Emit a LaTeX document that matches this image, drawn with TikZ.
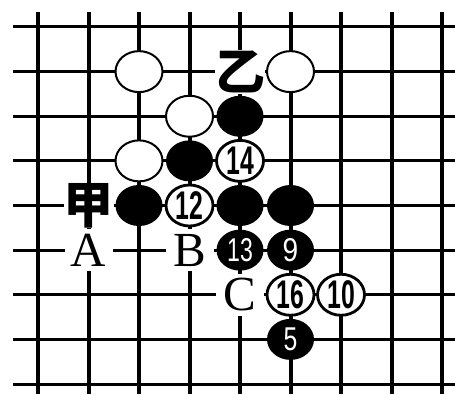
\documentclass[tikz,border=0pt]{standalone}
\usepackage{fontspec}
\setmainfont{Liberation Serif}
\newfontfamily\cjkfont{Noto Sans CJK SC}
\newfontfamily\numfont{Liberation Sans}
\usetikzlibrary{shapes.geometric}
\begin{document}
\begin{tikzpicture}[x=50.5pt,y=-44.625pt,
  stone/.style={ellipse, minimum width=47pt, minimum height=41pt, inner sep=0pt},
  wstone/.style={stone, draw=black, line width=2pt, fill=white},
  wnum/.style={stone, draw=black, line width=2.8pt, fill=white, font=\numfont\bfseries\fontsize{40}{40}\selectfont},
  bstone/.style={stone, fill=black},
  bnum/.style={stone, fill=black, text=white, font=\numfont\fontsize{33}{33}\selectfont},
  lbl/.style={rectangle, fill=white, minimum width=48pt, minimum height=42pt, inner sep=0pt, font=\fontsize{49}{49}\selectfont},
  cjk/.style={lbl, minimum width=45pt, minimum height=44pt, font=\cjkfont\bfseries\fontsize{50}{50}\selectfont},
  vline/.style={line width=4pt},
  hline/.style={line width=3pt}]
\useasboundingbox (-0.7525,-0.605) rectangle (8.257,8.224);
% grid
\foreach \i in {0,...,8} \draw[vline] (\i,-0.336) -- (\i,8.224);
\foreach \j in {0,...,8} \draw[hline] (-0.495,\j) -- (8.257,\j);
% labels
\node[cjk] (yi) at (4,1) {乙};
\node[cjk] (jia) at (1,4) {甲};
\node[lbl] (la) at (1,5) {A};
\node[lbl] (lb) at (3,5) {B};
\node[lbl] (lc) at (4,6) {C};
% stones
\node[wstone] (w21) at (2,1) {};
\node[wstone] (w51) at (5,1) {};
\node[wstone] (w32) at (3,2) {};
\node[bstone] (b42) at (4,2) {};
\node[wstone] (w23) at (2,3) {};
\node[bstone] (b33) at (3,3) {};
\node[wnum] (w14) at (4,3) {\scalebox{0.62}[1]{14}};
\node[bstone] (b24) at (2,4) {};
\node[wnum] (w12) at (3,4) {\scalebox{0.62}[1]{12}};
\node[bstone] (b44) at (4,4) {};
\node[bstone] (b54) at (5,4) {};
\node[bnum] (b13) at (4,5) {\scalebox{0.7}[1]{13}};
\node[bnum] (b9) at (5,5) {\scalebox{0.85}[1]{9}};
\node[wnum] (w16) at (5,6) {\scalebox{0.62}[1]{16}};
\node[wnum] (w10) at (6,6) {\scalebox{0.62}[1]{10}};
\node[bnum] (b5) at (5,7) {\scalebox{0.75}[1]{5}};
\end{tikzpicture}
\end{document}
